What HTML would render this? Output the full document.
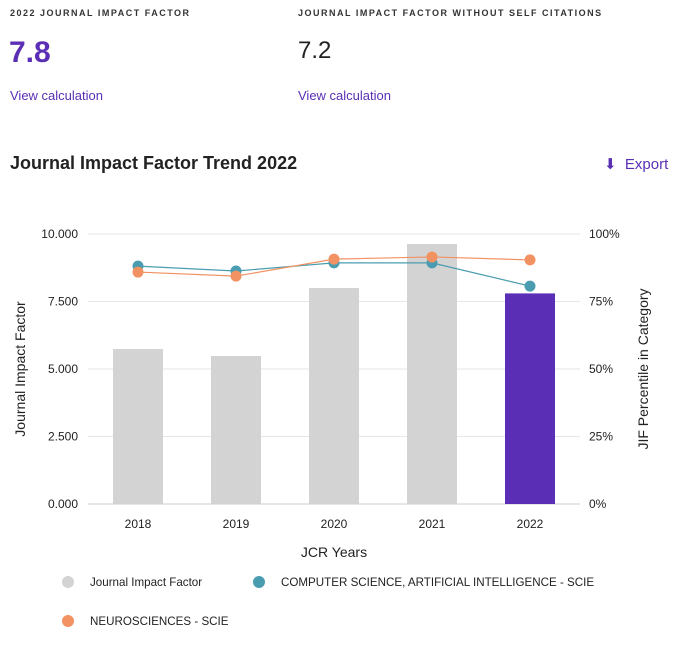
<!DOCTYPE html>
<html><head><meta charset="utf-8"><style>
body{margin:0;width:681px;height:647px;background:#fff;font-family:"Liberation Sans",sans-serif;color:#222;position:relative;overflow:hidden}
.lab{position:absolute;font-size:9px;letter-spacing:1.5px;font-weight:bold;color:#333}
.big{position:absolute;font-size:30px}
.link{position:absolute;font-size:13px;color:#5a2fb5}
</style></head><body>
<div class="lab" style="left:10px;top:8px">2022 JOURNAL IMPACT FACTOR</div>
<div class="lab" style="left:298px;top:8px">JOURNAL IMPACT FACTOR WITHOUT SELF CITATIONS</div>
<div class="big" style="left:9px;top:36px;color:#5a2fb5;font-weight:bold">7.8</div>
<div class="big" style="left:298px;top:37px;font-size:24px">7.2</div>
<div class="link" style="left:10px;top:88px">View calculation</div>
<div class="link" style="left:298px;top:88px">View calculation</div>
<div style="position:absolute;left:10px;top:153px;font-size:18px;font-weight:bold">Journal Impact Factor Trend 2022</div>
<div style="position:absolute;left:604px;top:155px;font-size:15px;color:#5a2fb5">⬇&nbsp; Export</div>
<svg id="c" width="681" height="647" style="position:absolute;left:0;top:0"></svg>
<script>
const years=["2018","2019","2020","2021","2022"];
const jif=[5.74,5.48,8.0,9.63,7.8];
const csPct=[88.1,86.3,89.3,89.3,80.7];
const neuroPct=[85.9,84.4,90.7,91.5,90.4];
const leftTicks=["0.000","2.500","5.000","7.500","10.000"];
const rightTicks=["0%","25%","50%","75%","100%"];
const svg=document.getElementById('c');const NS="http://www.w3.org/2000/svg";
function el(t,a,txt){const e=document.createElementNS(NS,t);for(const k in a)e.setAttribute(k,a[k]);if(txt!=null)e.textContent=txt;svg.appendChild(e);return e;}
const x0=89,bw=98,yT=234,yB=504;
const xc=i=>x0+bw*(i+0.5);
const yL=v=>yB-(v/10)*(yB-yT);
const yR=p=>yB-(p/100)*(yB-yT);
leftTicks.forEach((t,i)=>{const y=yL(i*2.5);
const g=el('line',{x1:88,x2:580,y1:y,y2:y,stroke:i==0?'#ccc':'#e6e6e6'});
const a=el('text',{x:78,y:y+4,'text-anchor':'end','font-size':12,fill:'#222'},t);
const b=el('text',{x:589,y:y+4,'font-size':12,fill:'#222'},rightTicks[i]);});
years.forEach((yr,i)=>{const r=el('rect',{x:xc(i)-25,y:yL(jif[i]),width:50,height:yB-yL(jif[i]),fill:i==4?'#5a2fb5':'#d3d3d3'});

const t=el('text',{x:xc(i),y:528,'text-anchor':'middle','font-size':12,fill:'#222'},yr);});
function series(vals,col,name){const p=el('polyline',{points:vals.map((v,i)=>xc(i)+','+yR(v)).join(' '),fill:'none',stroke:col,'stroke-width':1.2});

vals.forEach((v,i)=>{const c=el('circle',{cx:xc(i),cy:yR(v),r:5.5,fill:col});});}
series(csPct,'#4a9db0','cs-ai');
series(neuroPct,'#f29263','neuro');
let t=el('text',{x:334,y:557,'text-anchor':'middle','font-size':14,fill:'#222'},'JCR Years');
t=el('text',{x:0,y:0,'text-anchor':'middle','font-size':14,fill:'#222',transform:'translate(25,369) rotate(-90)'},'Journal Impact Factor');
t=el('text',{x:0,y:0,'text-anchor':'middle','font-size':14,fill:'#222',transform:'translate(648,369) rotate(-90)'},'JIF Percentile in Category');
[[68,582,'#d3d3d3','Journal Impact Factor'],[259,582,'#4a9db0','COMPUTER SCIENCE, ARTIFICIAL INTELLIGENCE - SCIE'],[68,621,'#f29263','NEUROSCIENCES - SCIE']].forEach(l=>{
const c=el('circle',{cx:l[0],cy:l[1],r:6,fill:l[2]});
const tx=el('text',{x:l[0]+22,y:l[1]+4,'font-size':11.6,fill:'#222'},l[3]);});
</script>
</body></html>
